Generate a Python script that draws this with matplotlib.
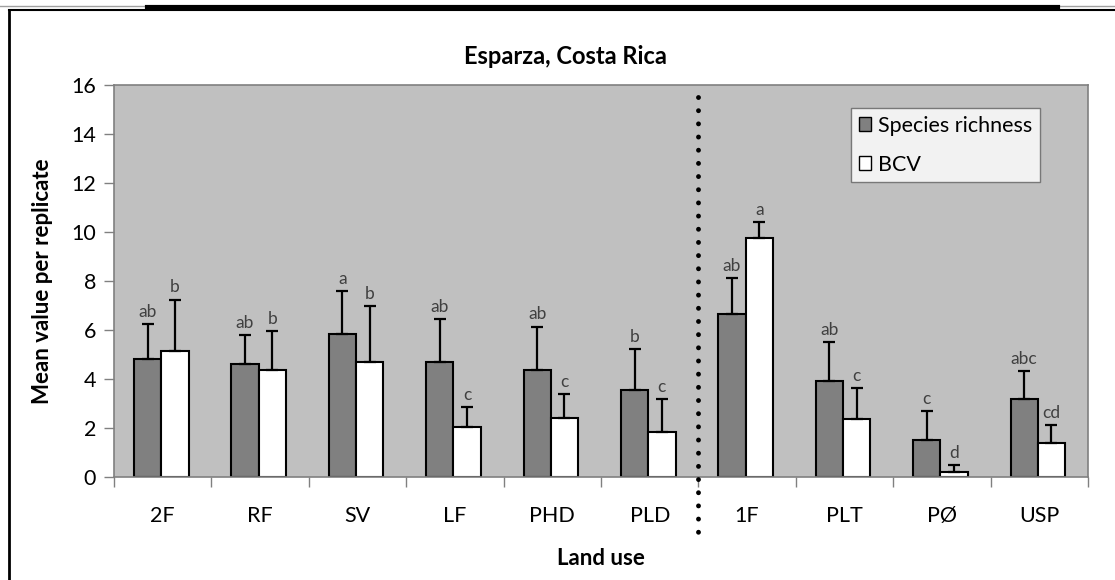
import numpy as np
import matplotlib
matplotlib.use("Agg")
import matplotlib.pyplot as plt
from matplotlib.lines import Line2D
from matplotlib.patches import Patch

plt.rcParams["font.family"] = ["Lato", "DejaVu Sans"]

# ---- data ----
categories = ["2F", "RF", "SV", "LF", "PHD", "PLD", "1F", "PLT", "PØ", "USP"]
richness = [4.82, 4.63, 5.85, 4.69, 4.37, 3.55, 6.67, 3.93, 1.51, 3.18]
richness_err = [1.42, 1.15, 1.75, 1.77, 1.77, 1.66, 1.45, 1.57, 1.18, 1.16]
bcv = [5.14, 4.35, 4.69, 2.04, 2.41, 1.84, 9.77, 2.37, 0.19, 1.38]
bcv_err = [2.10, 1.61, 2.29, 0.80, 0.96, 1.34, 0.65, 1.25, 0.29, 0.74]
richness_letters = ["ab", "ab", "a", "ab", "ab", "b", "ab", "ab", "c", "abc"]
bcv_letters = ["b", "b", "b", "c", "c", "c", "a", "c", "d", "cd"]

W, H = 1115, 580
fig = plt.figure(figsize=(W / 100, H / 100), dpi=100)
ax = fig.add_axes([114 / W, 1 - 477 / H, 974 / W, 392 / H])
ax.set_facecolor("#c0c0c0")

x = np.arange(len(categories))
bw = 0.28
xs = x + 0.345
xb = x + 0.625
ax.bar(xs, richness, bw, color="#808080", edgecolor="black", lw=1.5, zorder=2)
ax.bar(xb, bcv, bw, color="white", edgecolor="black", lw=1.5, zorder=2)
zeros = np.zeros(len(categories))
ax.errorbar(xs, richness, yerr=[zeros, richness_err], fmt="none", ecolor="black",
            elinewidth=1.6, capsize=4, capthick=1.6, zorder=3)
ax.errorbar(xb, bcv, yerr=[zeros, bcv_err], fmt="none", ecolor="black",
            elinewidth=1.6, capsize=4, capthick=1.6, zorder=3)

for xx, v, e, lab in zip(xs, richness, richness_err, richness_letters):
    ax.annotate(lab, (xx, v + e), xytext=(0, 3), textcoords="offset points",
                ha="center", va="bottom", fontsize=12.5, color="#404040")
for xx, v, e, lab in zip(xb, bcv, bcv_err, bcv_letters):
    ax.annotate(lab, (xx, v + e), xytext=(0, 3), textcoords="offset points",
                ha="center", va="bottom", fontsize=12.5, color="#404040")

# dotted separator between the two groups of land uses
ax.plot([6, 6], [15.5, -2.4], ls=(0, (0.01, 2.7)), lw=3.5, color="black",
        solid_capstyle="round", dash_capstyle="round", clip_on=False, zorder=4)

ax.set_xlim(0, 10)
ax.set_ylim(0, 16)
ax.set_yticks(np.arange(0, 17, 2))
ax.set_xticks(x + 0.5)
ax.set_xticklabels(categories)
ax.set_xticks(np.arange(0, 11), minor=True)
ax.tick_params(axis="x", which="major", length=0, pad=21, labelsize=15.5, colors="black")
ax.tick_params(axis="x", which="minor", length=7, width=1, color="#808080")
ax.tick_params(axis="y", length=7, width=1, color="#808080", labelsize=15.5, pad=6)
for s in ax.spines.values():
    s.set_color("#808080")
    s.set_linewidth(1.2)

ax.set_xlabel("Land use", fontsize=16, fontweight="bold")
ax.xaxis.set_label_coords(0.5, -0.18)
ax.set_ylabel("Mean value per replicate", fontsize=16, fontweight="bold")
ax.yaxis.set_label_coords(-0.063, 0.5)
fig.text(565 / W, 1 - 56 / H, "Esparza, Costa Rica", ha="center", va="center",
         fontsize=17, fontweight="bold")

handles = [Patch(facecolor="#808080", edgecolor="black", lw=1),
           Patch(facecolor="white", edgecolor="black", lw=1)]
leg = ax.legend(handles, ["Species richness", "BCV"], loc="upper left",
                bbox_to_anchor=(851 / W, 1 - 108 / H), bbox_transform=fig.transFigure,
                fontsize=15.5, frameon=True, fancybox=False, borderpad=0.35,
                handlelength=0.6, handleheight=0.6, handletextpad=0.3,
                labelspacing=0.9, borderaxespad=0)
leg.get_frame().set_edgecolor("#606060")
leg.get_frame().set_linewidth(1)

# outer chart frame of the screenshot
def px_line(x0, y0, x1, y1, **kw):
    fig.add_artist(Line2D([x0 / W, x1 / W], [1 - y0 / H, 1 - y1 / H], **kw))

px_line(0, 5.5, W, 5.5, color="#a0a0a0", lw=1)
px_line(147, 7, 1058, 7, color="black", lw=3)
px_line(9, 9.5, W, 9.5, color="black", lw=1.5)
px_line(9, 9.5, 9, H, color="black", lw=2)

fig.savefig("out.png", dpi=100)
